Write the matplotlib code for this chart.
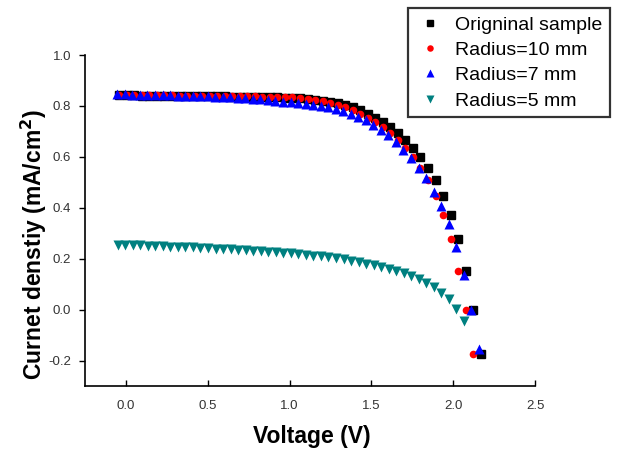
import matplotlib
matplotlib.use("Agg")
import matplotlib.pyplot as plt

plt.rcParams['font.family'] = ['Liberation Sans', 'DejaVu Sans']

# Original sample (black squares)
v_orig = [-0.04, 0.006, 0.052, 0.098, 0.144, 0.19, 0.236, 0.282, 0.328, 0.374,
          0.42, 0.466, 0.512, 0.558, 0.604, 0.65, 0.696, 0.742, 0.788, 0.834,
          0.88, 0.926, 0.972, 1.018, 1.064, 1.11, 1.156, 1.202, 1.248, 1.294,
          1.34, 1.386, 1.432, 1.478, 1.524, 1.57, 1.616, 1.662, 1.708, 1.754,
          1.80, 1.846, 1.892, 1.938, 1.984, 2.03, 2.076, 2.122, 2.168]
j_orig = [0.842, 0.842, 0.842, 0.841, 0.841, 0.841, 0.840, 0.840, 0.840, 0.839,
          0.839, 0.839, 0.838, 0.838, 0.838, 0.837, 0.837, 0.836, 0.836, 0.835,
          0.835, 0.834, 0.833, 0.832, 0.830, 0.828, 0.825, 0.821, 0.816, 0.810,
          0.803, 0.794, 0.783, 0.770, 0.754, 0.736, 0.716, 0.693, 0.666, 0.635,
          0.599, 0.557, 0.508, 0.448, 0.370, 0.276, 0.150, 0.000, -0.173]

# Radius = 10 mm (red circles)
v_r10 = [-0.04, 0.006, 0.052, 0.098, 0.144, 0.19, 0.236, 0.282, 0.328, 0.374,
         0.42, 0.466, 0.512, 0.558, 0.604, 0.65, 0.696, 0.742, 0.788, 0.834,
         0.88, 0.926, 0.972, 1.018, 1.064, 1.11, 1.156, 1.202, 1.248, 1.294,
         1.34, 1.386, 1.432, 1.478, 1.524, 1.57, 1.616, 1.662, 1.708, 1.754,
         1.80, 1.846, 1.892, 1.938, 1.984, 2.03, 2.076, 2.122]
j_r10 = [0.843, 0.843, 0.843, 0.843, 0.842, 0.842, 0.842, 0.842, 0.841, 0.841,
         0.841, 0.840, 0.840, 0.840, 0.839, 0.839, 0.839, 0.838, 0.838, 0.837,
         0.837, 0.836, 0.835, 0.834, 0.832, 0.829, 0.824, 0.818, 0.811, 0.803,
         0.794, 0.783, 0.770, 0.754, 0.736, 0.716, 0.693, 0.666, 0.635, 0.599,
         0.557, 0.508, 0.448, 0.370, 0.276, 0.150, 0.000, -0.173]

# Radius = 7 mm (blue triangles)
v_r7 = [-0.052, -0.006, 0.040, 0.086, 0.132, 0.178, 0.224, 0.270, 0.316, 0.362,
        0.408, 0.454, 0.500, 0.546, 0.592, 0.638, 0.684, 0.730, 0.776, 0.822,
        0.868, 0.914, 0.960, 1.006, 1.052, 1.098, 1.144, 1.190, 1.236, 1.282,
        1.328, 1.374, 1.420, 1.466, 1.512, 1.558, 1.604, 1.650, 1.696, 1.742,
        1.788, 1.834, 1.880, 1.926, 1.972, 2.018, 2.064, 2.110, 2.156]
j_r7 = [0.845, 0.845, 0.844, 0.844, 0.843, 0.843, 0.842, 0.842, 0.841, 0.841,
        0.840, 0.839, 0.838, 0.837, 0.836, 0.834, 0.832, 0.830, 0.828, 0.826,
        0.823, 0.820, 0.817, 0.814, 0.811, 0.808, 0.804, 0.799, 0.794, 0.787,
        0.779, 0.769, 0.757, 0.743, 0.726, 0.707, 0.685, 0.659, 0.628, 0.595,
        0.558, 0.516, 0.464, 0.409, 0.337, 0.246, 0.135, 0.000, -0.153]

# Radius = 5 mm (teal down triangles)
v_r5 = [-0.05, -0.004, 0.042, 0.088, 0.134, 0.18, 0.226, 0.272, 0.318, 0.364,
        0.41, 0.456, 0.502, 0.548, 0.594, 0.64, 0.686, 0.732, 0.778, 0.824,
        0.87, 0.916, 0.962, 1.008, 1.054, 1.10, 1.146, 1.192, 1.238, 1.284,
        1.33, 1.376, 1.422, 1.468, 1.514, 1.56, 1.606, 1.652, 1.698, 1.744,
        1.79, 1.836, 1.882, 1.928, 1.974, 2.02, 2.066]
j_r5 = [0.255, 0.254, 0.253, 0.252, 0.251, 0.250, 0.249, 0.248, 0.247, 0.246,
        0.245, 0.243, 0.242, 0.240, 0.239, 0.237, 0.235, 0.233, 0.231, 0.229,
        0.227, 0.225, 0.223, 0.221, 0.218, 0.215, 0.212, 0.209, 0.205, 0.201,
        0.197, 0.192, 0.187, 0.181, 0.175, 0.168, 0.161, 0.153, 0.144, 0.134,
        0.122, 0.106, 0.088, 0.066, 0.040, 0.004, -0.045]

x_ticks = [0.0, 0.5, 1.0, 1.5, 2.0, 2.5]
y_ticks = [-0.2, 0.0, 0.2, 0.4, 0.6, 0.8, 1.0]

fig = plt.figure(figsize=(6.2, 4.51), dpi=100)
ax = fig.add_axes([0.137, 0.144, 0.726, 0.734])

ax.plot(v_orig, j_orig, 's', color='black', ms=5.5, label='Origninal sample')
ax.plot(v_r10, j_r10, 'o', color='red', ms=5.5, mec='none', label='Radius=10 mm')
ax.plot(v_r7, j_r7, '^', color='blue', ms=7.5, mec='none', label='Radius=7 mm')
ax.plot(v_r5, j_r5, 'v', color='#008080', ms=7.5, mec='none', label='Radius=5 mm')

ax.set_xlim(-0.25, 2.5)
ax.set_ylim(-0.3, 1.0)
ax.set_xticks(x_ticks)
ax.set_yticks(y_ticks)
ax.set_xticklabels(['%.1f' % t for t in x_ticks])
ax.set_yticklabels(['%.1f' % t for t in y_ticks])

ax.spines['top'].set_visible(False)
ax.spines['right'].set_visible(False)
ax.spines['left'].set_linewidth(1.2)
ax.spines['bottom'].set_linewidth(1.2)
ax.tick_params(axis='x', direction='in', length=4, width=1, labelsize=9.5,
               labelcolor='#333333', pad=10)
ax.tick_params(axis='y', direction='out', length=4, width=1, labelsize=9.5,
               labelcolor='#333333', pad=6)

ax.set_xlabel('Voltage (V)', fontsize=16.5, fontweight='bold')
ax.xaxis.set_label_coords(0.504, -0.118)
ax.set_ylabel('Curnet denstiy (mA/cm$^\\mathbf{2}$)', fontsize=16.5,
              fontweight='bold')
ax.yaxis.set_label_coords(-0.080, 0.426)

leg = fig.legend(loc='upper left', bbox_to_anchor=(0.658, 0.982),
                 fontsize=14, frameon=True, fancybox=False, borderaxespad=0,
                 handletextpad=0.55, labelspacing=0.4, borderpad=0.4,
                 handlelength=1.45, markerscale=0.85)
leg.get_frame().set_edgecolor('black')
leg.get_frame().set_linewidth(1.6)

fig.savefig('out.png', dpi=100)
